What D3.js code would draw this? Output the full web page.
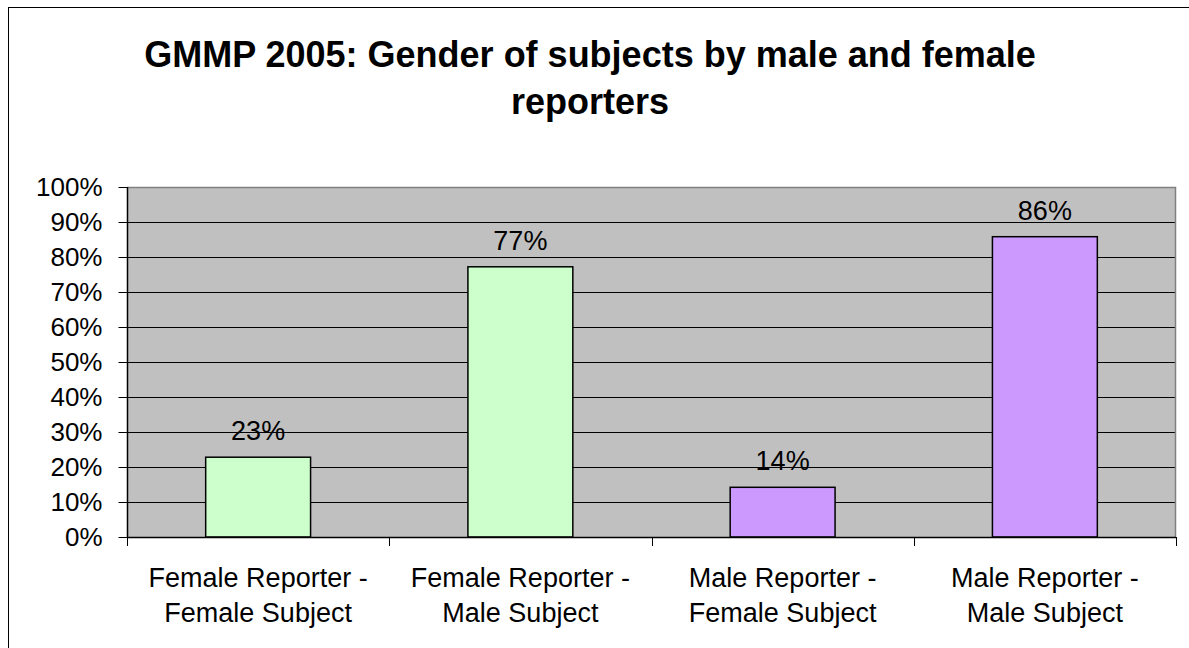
<!DOCTYPE html>
<html>
<head>
<meta charset="utf-8">
<script src="https://cdn.jsdelivr.net/npm/d3@7"></script>
<style>
  html, body { margin: 0; padding: 0; background: #fff; }
  svg { display: block; font-family: Arial, "Liberation Sans", sans-serif; }
</style>
</head>
<body>
<svg id="chart" width="1189" height="648"></svg>
<script>
const titleLines = ["GMMP 2005: Gender of subjects by male and female", "reporters"];
const categories = [
  ["Female Reporter -", "Female Subject"],
  ["Female Reporter -", "Male Subject"],
  ["Male Reporter -", "Female Subject"],
  ["Male Reporter -", "Male Subject"]
];
const values = [22.8, 77.2, 14.2, 85.8];
const valueLabels = ["23%", "77%", "14%", "86%"];
const barColors = ["#CCFFCC", "#CCFFCC", "#CC99FF", "#CC99FF"];
const yTicks = [0, 10, 20, 30, 40, 50, 60, 70, 80, 90, 100];

const svg = d3.select("#chart");
const plot = { left: 127, right: 1176, top: 187, bottom: 537 };

// outer chart border
svg.append("rect")
  .attr("x", 8.5).attr("y", 7.5)
  .attr("width", 1200).attr("height", 700)
  .attr("fill", "#fff").attr("stroke", "#000").attr("stroke-width", 1);

// title
const title = svg.append("text")
  .attr("text-anchor", "middle")
  .attr("font-size", 36).attr("font-weight", "bold").attr("fill", "#000");
titleLines.forEach((t, i) => {
  title.append("tspan").attr("x", 590).attr("y", 67 + i * 47).text(t);
});

const x = d3.scaleBand()
  .domain(d3.range(categories.length))
  .range([plot.left, plot.right])
  .paddingInner(0.6).paddingOuter(0.3);
const xOuter = d3.scaleBand()
  .domain(d3.range(categories.length))
  .range([plot.left, plot.right]);
const y = d3.scaleLinear().domain([0, 100]).range([plot.bottom, plot.top]);

// plot background
svg.append("rect")
  .attr("x", plot.left).attr("y", plot.top)
  .attr("width", plot.right - plot.left).attr("height", plot.bottom - plot.top)
  .attr("fill", "#C0C0C0");

// gridlines
svg.append("g").selectAll("line")
  .data(yTicks.filter(d => d > 0 && d < 100))
  .join("line")
  .attr("x1", plot.left).attr("x2", plot.right)
  .attr("y1", d => Math.round(y(d)) + 0.5).attr("y2", d => Math.round(y(d)) + 0.5)
  .attr("stroke", "#000").attr("stroke-width", 1);

// top & right plot border (gray)
svg.append("path")
  .attr("d", `M${plot.left},${plot.top + 0.5}H${plot.right - 0.5}V${plot.bottom}`)
  .attr("fill", "none").attr("stroke", "#808080").attr("stroke-width", 1.5);

// bars
svg.append("g").selectAll("rect")
  .data(values)
  .join("rect")
  .attr("x", (d, i) => x(i))
  .attr("width", x.bandwidth())
  .attr("y", d => y(d))
  .attr("height", d => y(0) - y(d))
  .attr("fill", (d, i) => barColors[i])
  .attr("stroke", "#000").attr("stroke-width", 1.5);

// value labels
svg.append("g").selectAll("text")
  .data(values)
  .join("text")
  .attr("x", (d, i) => x(i) + x.bandwidth() / 2)
  .attr("y", d => y(d) - 17)
  .attr("text-anchor", "middle")
  .attr("font-size", 27).attr("fill", "#000")
  .text((d, i) => valueLabels[i]);

// y axis
const yAxis = d3.axisLeft(y).tickValues(yTicks).tickFormat(d => d + "%")
  .tickSize(9).tickPadding(16);
const gy = svg.append("g").attr("transform", `translate(${plot.left + 0.5},0)`).call(yAxis);
gy.select(".domain").attr("stroke", "#000").attr("stroke-width", 1.5).attr("d", `M0,${plot.top}V${plot.bottom}`);
gy.selectAll(".tick line").attr("stroke", "#000");
gy.selectAll(".tick text").attr("font-size", 26).attr("font-family", "Arial, 'Liberation Sans', sans-serif").attr("fill", "#000");

// x axis
const boundaries = d3.range(categories.length + 1).map(i => i < categories.length ? xOuter(i) : plot.right);
svg.append("line")
  .attr("x1", plot.left).attr("x2", plot.right)
  .attr("y1", plot.bottom + 0.5).attr("y2", plot.bottom + 0.5)
  .attr("stroke", "#000").attr("stroke-width", 1.5);
svg.append("g").selectAll("line")
  .data(boundaries)
  .join("line")
  .attr("x1", d => Math.round(d) + 0.5).attr("x2", d => Math.round(d) + 0.5)
  .attr("y1", plot.bottom).attr("y2", plot.bottom + 9)
  .attr("stroke", "#000").attr("stroke-width", 1);

const catLabels = svg.append("g").selectAll("text")
  .data(categories)
  .join("text")
  .attr("text-anchor", "middle")
  .attr("font-size", 27).attr("fill", "#000");
catLabels.each(function(lines, i) {
  const t = d3.select(this);
  lines.forEach((ln, j) => {
    t.append("tspan")
      .attr("x", xOuter(i) + xOuter.bandwidth() / 2)
      .attr("y", 587 + j * 35)
      .text(ln);
  });
});
</script>
</body>
</html>
